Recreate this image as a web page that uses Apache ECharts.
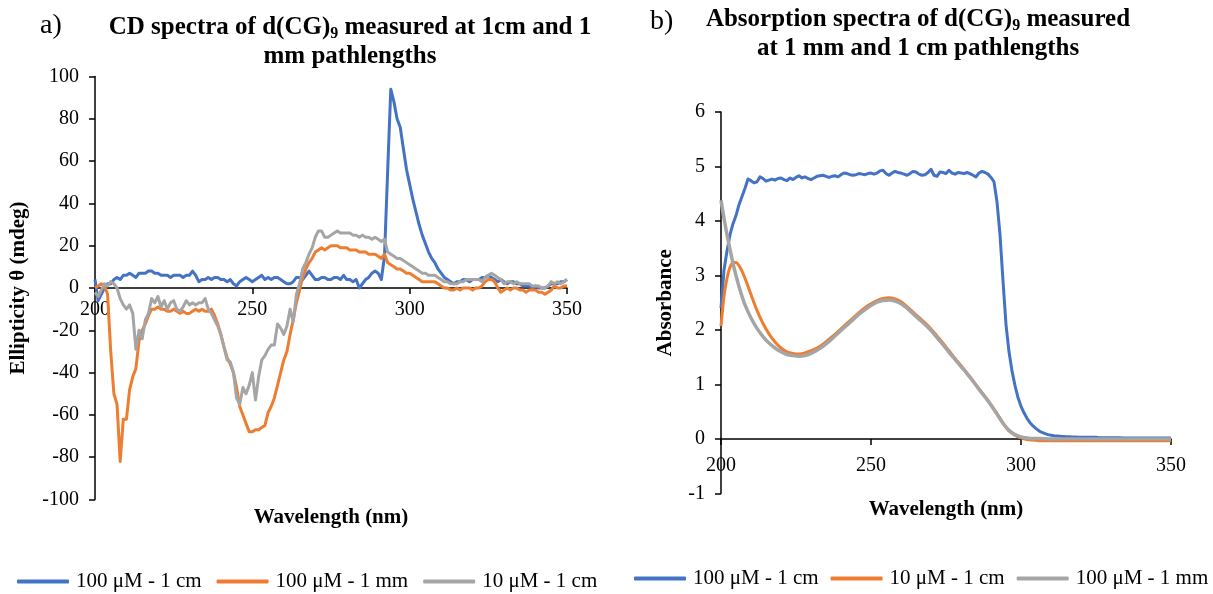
<!DOCTYPE html>
<html>
<head>
<meta charset="utf-8">
<script src="https://cdn.jsdelivr.net/npm/echarts@6/dist/echarts.min.js"></script>
<style>
html,body{margin:0;padding:0;background:#fff;}
#chart{width:1213px;height:594px;}
</style>
</head>
<body>
<div id="chart"></div>
<script>
// ---------- Data: (a) CD spectra, 1 nm steps 200..350 ----------
const wavelengthsCD = Array.from({length: 151}, (_, i) => 200 + i);

const cdBlue100uM1cm = [
  4,-6,-3,0,2,2,4,5,4,6, 6,7,6,5,7,7,7,8,8,7,
  7,6,6,6,5,6,6,6,5,6, 6,8,6,3,4,4,5,4,5,5,
  4,4,3,4,2,1,3,4,5,4, 3,4,5,6,4,5,4,5,5,4,
  3,2,2,3,5,5,4,6,8,6, 4,4,5,5,4,4,5,5,4,6,
  4,4,3,4,0,2,4,5,7,8, 7,4,15,55,94,88,80,76,66,56,
  49,42,36,30,25,21,17,14,12,9, 7,5,4,3,2,3,3,4,4,3,
  4,4,4,5,5,6,5,4,3,4, 3,2,3,3,2,2,1,1,1,0,
  1,0,0,0,1,2,2,2,3,3, 4
];

const cdOrange100uM1mm = [
  0,1,2,1,-3,-30,-50,-55,-82,-62, -62,-48,-42,-38,-25,-20,-17,-13,-10,-10,
  -9,-10,-10,-11,-11,-10,-11,-12,-11,-12, -12,-11,-10,-11,-10,-11,-11,-10,-13,-17,
  -22,-28,-33,-36,-40,-47,-56,-60,-64,-68, -68,-67,-67,-66,-65,-59,-56,-52,-46,-40,
  -34,-30,-22,-15,-7,-1,5,9,12,14, 17,18,19,18,19,20,20,20,19,19,
  19,18,18,18,17,17,17,16,16,16, 15,14,16,12,11,10,9,9,8,7,
  7,6,5,4,3,3,3,3,3,2, 1,0,0,-1,-1,0,-1,0,0,0,
  -1,0,0,1,3,4,4,3,0,-2, -1,0,-1,0,0,-1,-1,-2,-1,-1,
  -1,-2,-2,-3,-2,-1,1,0,0,1, 1
];

const cdGray10uM1cm = [
  -2,-4,-1,2,1,3,2,0,-5,-8, -10,-8,-12,-29,-20,-24,-15,-12,-5,-7,
  -4,-9,-6,-10,-7,-6,-10,-11,-9,-6, -8,-7,-8,-7,-7,-5,-10,-12,-15,-18,
  -22,-28,-34,-35,-40,-52,-55,-47,-50,-46, -40,-53,-42,-34,-32,-29,-27,-27,-17,-19,
  -22,-18,-10,-16,-3,2,9,12,16,19, 24,27,27,24,24,25,26,27,26,26,
  26,26,25,25,24,25,24,24,23,24, 23,22,23,17,16,15,14,14,13,12,
  11,10,9,8,7,7,6,6,6,5, 4,3,3,2,2,2,3,3,4,4,
  4,4,4,3,5,6,7,6,5,4, 2,3,3,2,3,2,2,2,2,1,
  1,1,0,0,1,3,2,3,2,3, 4
];

// ---------- Data: (b) Absorption spectra ----------
const wavelengthsAbsBlue = Array.from({length: 151}, (_, i) => 200 + i);
const absBlue100uM1cm = [
  2.40,3.10,3.45,3.75,3.95,4.10,4.30,4.45,4.60,4.77,
  4.74,4.70,4.72,4.81,4.78,4.73,4.75,4.77,4.75,4.78,
  4.79,4.76,4.74,4.79,4.76,4.80,4.83,4.79,4.81,4.78,
  4.76,4.79,4.82,4.83,4.84,4.82,4.80,4.82,4.83,4.81,
  4.85,4.88,4.87,4.85,4.84,4.85,4.87,4.86,4.85,4.87,
  4.88,4.86,4.88,4.92,4.93,4.87,4.84,4.88,4.91,4.89,
  4.88,4.86,4.84,4.87,4.91,4.90,4.86,4.84,4.85,4.89,
  4.95,4.84,4.82,4.90,4.89,4.87,4.93,4.88,4.86,4.89,
  4.88,4.87,4.89,4.87,4.84,4.81,4.88,4.91,4.89,4.86,
  4.80,4.72,4.35,3.75,2.90,2.10,1.60,1.25,0.98,0.76,
  0.60,0.48,0.38,0.30,0.24,0.19,0.15,0.12,0.10,0.08,
  0.07,0.06,0.055,0.05,0.045,0.04,0.04,0.035,0.035,0.03,
  0.03,0.03,0.03,0.03,0.03,0.03,0.025,0.025,0.025,0.025,
  0.025,0.025,0.025,0.025,0.02,0.02,0.02,0.02,0.02,0.02,
  0.02,0.02,0.02,0.02,0.02,0.02,0.02,0.02,0.02,0.02,
  0.02
];

const wavelengthsAbs = [200,201,202,203,204,205,206,207,208,210,212,214,216,218,220,222,224,226,228,230,
  232,234,236,238,240,242,244,246,248,250,252,254,256,258,260,262,264,266,268,270,272,274,276,278,280,
  282,284,286,288,290,292,294,296,298,300,302,304,306,310,315,320,330,340,350];

const absOrange10uM1cm = [2.07,2.62,2.95,3.15,3.24,3.24,3.18,3.08,2.95,2.65,2.36,2.12,1.93,1.78,1.67,1.60,1.57,1.56,1.58,1.62,
  1.67,1.74,1.83,1.92,2.02,2.12,2.22,2.32,2.41,2.48,2.54,2.58,2.59,2.57,2.52,2.43,2.33,2.23,2.13,2.02,1.89,1.76,1.62,1.48,1.35,
  1.21,1.07,0.92,0.78,0.63,0.46,0.29,0.15,0.07,0.02,-0.01,-0.02,-0.03,-0.03,-0.03,-0.03,-0.03,-0.03,-0.03];

const absGray100uM1mm = [4.38,4.05,3.75,3.48,3.22,3.00,2.80,2.62,2.46,2.22,2.03,1.88,1.76,1.67,1.60,1.55,1.53,1.52,1.53,1.57,
  1.63,1.70,1.79,1.89,1.99,2.09,2.19,2.29,2.37,2.45,2.51,2.54,2.55,2.53,2.48,2.40,2.30,2.20,2.10,1.99,1.86,1.73,1.59,1.46,1.33,
  1.20,1.06,0.91,0.77,0.62,0.46,0.29,0.16,0.08,0.04,0.02,0.01,0.01,0.0,0.0,0.0,0.0,0.0,0.0];

const cdTicksY = {min: -100, max: 100, interval: 20};
const absTicksY = {min: -1, max: 6, interval: 1};
const xTicks = {min: 200, max: 350, interval: 50};

const seriesNamesCD = ['100 μM - 1 cm', '100 μM - 1 mm', '10 μM - 1 cm'];
const seriesNamesAbs = ['100 μM - 1 cm', '10 μM - 1 cm', '100 μM - 1 mm'];

// ---------- Styles ----------
const FONT = '"Liberation Serif", "Times New Roman", serif';
const BLUE = '#4472C4', ORANGE = '#ED7D31', GRAY = '#A5A5A5';

const gridCD = {left: 95, top: 76.5, width: 472, height: 423};
const gridAbs = {left: 721, top: 112, width: 450, height: 381.5};

function pairs(xs, ys) { return xs.map((x, i) => [x, ys[i]]); }
// shift of the x axis from the grid bottom up to the y = 0 line
function zeroOffset(grid, ticks) { return -grid.height * (0 - ticks.min) / (ticks.max - ticks.min); }

const axisLineStyle = {color: '#000', width: 1.5};
const tickLabel = {color: '#000', fontFamily: FONT, fontSize: 20};
const axisNameStyle = {color: '#000', fontFamily: FONT, fontSize: 21, fontWeight: 'bold'};

function xAxisMain(grid, offset, margin) {
  return {
    type: 'value', gridIndex: grid, position: 'bottom', offset: offset,
    min: xTicks.min, max: xTicks.max, interval: xTicks.interval,
    axisLine: {show: true, onZero: false, lineStyle: axisLineStyle},
    axisTick: {show: true, inside: false, length: 6, lineStyle: axisLineStyle},
    axisLabel: Object.assign({margin: margin, showMinLabel: true, showMaxLabel: true, hideOverlap: false}, tickLabel),
    splitLine: {show: false}
  };
}
function xAxisName(grid, gap) {
  return {
    type: 'value', gridIndex: grid, position: 'bottom',
    min: xTicks.min, max: xTicks.max,
    axisLine: {show: false, onZero: false},
    axisTick: {show: false}, axisLabel: {show: false}, splitLine: {show: false},
    name: 'Wavelength (nm)', nameLocation: 'middle', nameGap: gap,
    nameTextStyle: Object.assign({verticalAlign: 'top'}, axisNameStyle)
  };
}

const titleRichA = {fontFamily: FONT, fontSize: 25, fontWeight: 'bold', color: '#000', lineHeight: 29};
const titleRichS = {fontFamily: FONT, fontSize: 16, fontWeight: 'bold', color: '#000', lineHeight: 18, verticalAlign: 'bottom'};
const panelLabel = {fontFamily: FONT, fontSize: 28, fontWeight: 'normal', color: '#000'};
const legendText = {fontFamily: FONT, fontSize: 21, color: '#000', padding: [0, 0, 0, 2]};

const option = {
  backgroundColor: '#fff',
  animation: false,
  title: [
    {text: 'a)', left: 40, top: 12, padding: 0, textStyle: panelLabel},
    {text: '{a|CD spectra of d(CG)}{s|9}{a| measured at 1cm and 1}\n{a|mm pathlengths}',
     left: 350, top: 13, padding: 0, textAlign: 'center',
     textStyle: {rich: {a: titleRichA, s: titleRichS}}},
    {text: 'b)', left: 650, top: 8, padding: 0, textStyle: panelLabel},
    {text: '{a|Absorption spectra of d(CG)}{s|9}{a| measured}\n{a|at 1 mm and 1 cm pathlengths}',
     left: 918, top: 5, padding: 0, textAlign: 'center',
     textStyle: {rich: {a: titleRichA, s: titleRichS}}}
  ],
  legend: [
    {
      left: 17, top: 571, padding: 0, itemGap: 15, itemWidth: 52, itemHeight: 4,
      textStyle: legendText,
      data: [
        {name: seriesNamesCD[0], icon: 'roundRect', itemStyle: {color: BLUE}},
        {name: seriesNamesCD[1], icon: 'roundRect', itemStyle: {color: ORANGE}},
        {name: seriesNamesCD[2], icon: 'roundRect', itemStyle: {color: GRAY}}
      ],
      selectedMode: false
    },
    {
      left: 634, top: 568, padding: 0, itemGap: 12, itemWidth: 52, itemHeight: 4,
      textStyle: legendText,
      data: [
        {name: seriesNamesAbs[0], icon: 'roundRect', itemStyle: {color: BLUE}},
        {name: seriesNamesAbs[1], icon: 'roundRect', itemStyle: {color: ORANGE}},
        {name: seriesNamesAbs[2], icon: 'roundRect', itemStyle: {color: GRAY}}
      ],
      selectedMode: false
    }
  ],
  grid: [
    Object.assign({containLabel: false, outerBoundsMode: 'none'}, gridCD),
    Object.assign({containLabel: false, outerBoundsMode: 'none'}, gridAbs)
  ],
  xAxis: [
    xAxisMain(0, zeroOffset(gridCD, cdTicksY), 12),
    xAxisName(0, 8),
    xAxisMain(1, zeroOffset(gridAbs, absTicksY), 17),
    xAxisName(1, 6)
  ],
  yAxis: [
    {
      type: 'value', gridIndex: 0, min: cdTicksY.min, max: cdTicksY.max, interval: cdTicksY.interval,
      axisLine: {show: true, onZero: false, lineStyle: axisLineStyle},
      axisTick: {show: true, inside: false, length: 6, lineStyle: axisLineStyle},
      axisLabel: Object.assign({margin: 16}, tickLabel),
      splitLine: {show: false},
      name: 'Ellipticity θ (mdeg)', nameLocation: 'middle', nameGap: 66, nameTextStyle: axisNameStyle
    },
    {
      type: 'value', gridIndex: 1, min: absTicksY.min, max: absTicksY.max, interval: absTicksY.interval,
      axisLine: {show: true, onZero: false, lineStyle: axisLineStyle},
      axisTick: {show: true, inside: false, length: 6, lineStyle: axisLineStyle},
      axisLabel: Object.assign({margin: 16}, tickLabel),
      splitLine: {show: false},
      name: 'Absorbance', nameLocation: 'middle', nameGap: 45, nameTextStyle: axisNameStyle
    }
  ],
  series: [
    {name: seriesNamesCD[0], type: 'line', xAxisIndex: 0, yAxisIndex: 0, showSymbol: false, symbol: 'none',
     lineStyle: {color: BLUE, width: 3, join: 'round'}, itemStyle: {color: BLUE},
     data: pairs(wavelengthsCD, cdBlue100uM1cm)},
    {name: seriesNamesCD[1], type: 'line', xAxisIndex: 0, yAxisIndex: 0, showSymbol: false, symbol: 'none',
     lineStyle: {color: ORANGE, width: 3, join: 'round'}, itemStyle: {color: ORANGE},
     data: pairs(wavelengthsCD, cdOrange100uM1mm)},
    {name: seriesNamesCD[2], type: 'line', xAxisIndex: 0, yAxisIndex: 0, showSymbol: false, symbol: 'none',
     lineStyle: {color: GRAY, width: 3, join: 'round'}, itemStyle: {color: GRAY},
     data: pairs(wavelengthsCD, cdGray10uM1cm)},
    {name: seriesNamesAbs[0], type: 'line', xAxisIndex: 2, yAxisIndex: 1, showSymbol: false, symbol: 'none',
     lineStyle: {color: BLUE, width: 3, join: 'round'}, itemStyle: {color: BLUE},
     data: pairs(wavelengthsAbsBlue, absBlue100uM1cm)},
    {name: seriesNamesAbs[1], type: 'line', xAxisIndex: 2, yAxisIndex: 1, showSymbol: false, symbol: 'none', smooth: 0.3,
     lineStyle: {color: ORANGE, width: 3, join: 'round'}, itemStyle: {color: ORANGE},
     data: pairs(wavelengthsAbs, absOrange10uM1cm)},
    {name: seriesNamesAbs[2], type: 'line', xAxisIndex: 2, yAxisIndex: 1, showSymbol: false, symbol: 'none', smooth: 0.3,
     lineStyle: {color: GRAY, width: 3.5, join: 'round'}, itemStyle: {color: GRAY},
     data: pairs(wavelengthsAbs, absGray100uM1mm)}
  ]
};

const chart = echarts.init(document.getElementById('chart'), null, {renderer: 'canvas'});
chart.setOption(option);
</script>
</body>
</html>
